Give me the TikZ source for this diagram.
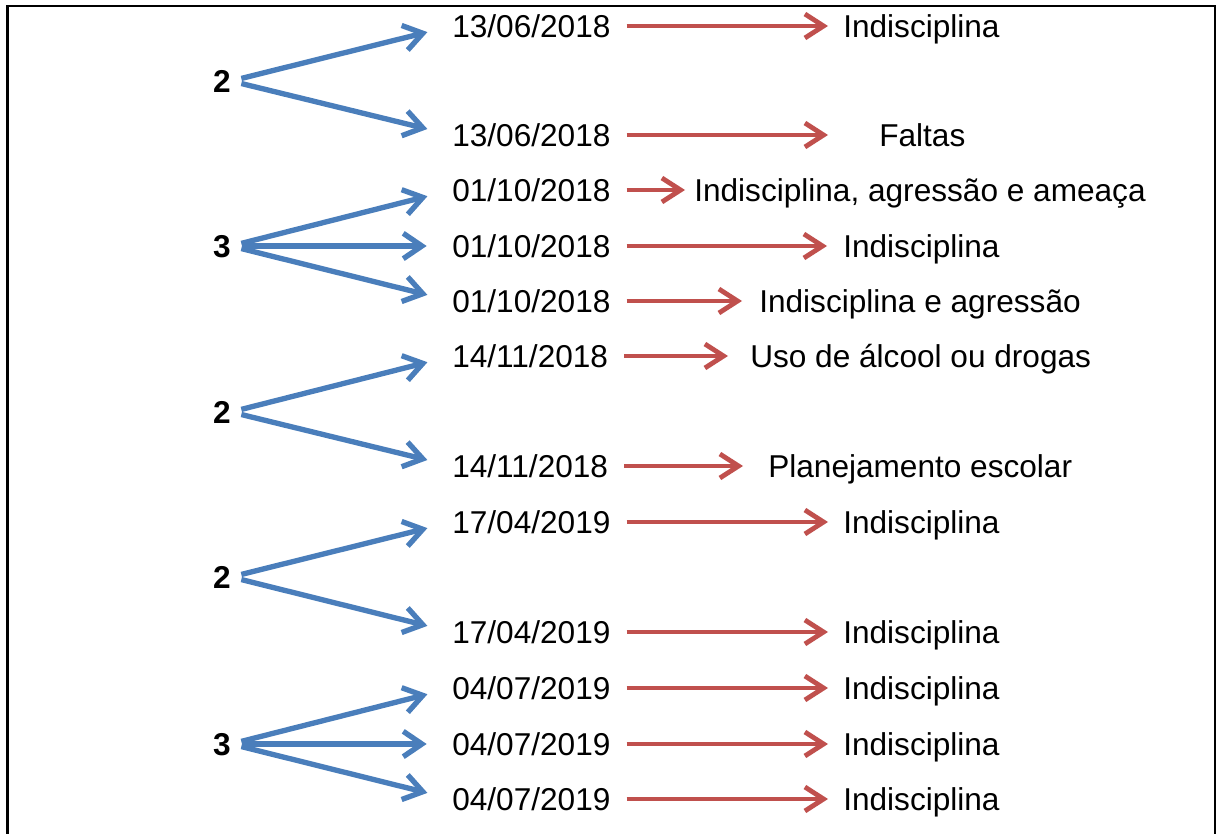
\documentclass[tikz,border=0pt]{standalone}
\usepackage{fontspec}
\setmainfont{Liberation Sans}
\usetikzlibrary{arrows.meta}
\definecolor{bluearr}{RGB}{74,126,187}
\definecolor{redarr}{RGB}{192,80,77}
\begin{document}
\begin{tikzpicture}[x=0.75pt,y=-0.75pt,
  txt/.style={inner sep=0pt, anchor=west, font=\fontsize{23.7}{28}\selectfont, text height=17pt, text depth=0pt},
  num/.style={txt, anchor=east, font=\fontsize{23.7}{28}\selectfont\bfseries},
  barr/.style={draw=bluearr, line width=4pt, -{Straight Barb[length=14pt,width=19pt]}, shorten <=8pt, shorten >=19pt},
  rarr/.style={draw=redarr, line width=3.6pt, -{Straight Barb[length=14pt,width=18pt]}, shorten <=12pt, shorten >=#1},
]
\useasboundingbox (0,0) rectangle (1218,834);
% frame
\draw[line width=2.8pt] (7.5,834) -- (7.5,6);
\draw[line width=1.8pt] (6,6) -- (1215,6) -- (1215,834);

% dates
\node[txt] (d1) at (452,26) {13/06/2018};
\node[txt] (d2) at (452,135) {13/06/2018};
\node[txt] (d3) at (452,190) {01/10/2018};
\node[txt] (d4) at (452,246) {01/10/2018};
\node[txt] (d5) at (452,301) {01/10/2018};
\node[txt] (d6) at (452,356) {14/11/2018};
\node[txt] (d7) at (452,466) {14/11/2018};
\node[txt] (d8) at (452,522) {17/04/2019};
\node[txt] (d9) at (452,632) {17/04/2019};
\node[txt] (d10) at (452,688) {04/07/2019};
\node[txt] (d11) at (452,744) {04/07/2019};
\node[txt] (d12) at (452,799) {04/07/2019};

% reasons
\node[txt] (r1) at (843,26) {Indisciplina};
\node[txt] (r2) at (879,135) {Faltas};
\node[txt] (r3) at (694,190) {Indisciplina, agressão e ameaça};
\node[txt] (r4) at (843,246) {Indisciplina};
\node[txt] (r5) at (759,301) {Indisciplina e agressão};
\node[txt] (r6) at (750,356) {Uso de álcool ou drogas};
\node[txt] (r7) at (768,466) {Planejamento escolar};
\node[txt] (r8) at (843,522) {Indisciplina};
\node[txt] (r9) at (843,632) {Indisciplina};
\node[txt] (r10) at (843,688) {Indisciplina};
\node[txt] (r11) at (843,744) {Indisciplina};
\node[txt] (r12) at (843,799) {Indisciplina};

% counts
\node[num] (n1) at (231,81) {2};
\node[num] (n2) at (231,246) {3};
\node[num] (n3) at (231,412) {2};
\node[num] (n4) at (231,577) {2};
\node[num] (n5) at (231,744) {3};

% blue arrows
\draw[barr] (n1.east) -- (d1.west);
\draw[barr] (n1.east) -- (d2.west);
\draw[barr] (n2.east) -- (d3.west);
\draw[barr] (n2.east) -- (d4.west);
\draw[barr] (n2.east) -- (d5.west);
\draw[barr] (n3.east) -- (d6.west);
\draw[barr] (n3.east) -- (d7.west);
\draw[barr] (n4.east) -- (d8.west);
\draw[barr] (n4.east) -- (d9.west);
\draw[barr] (n5.east) -- (d10.west);
\draw[barr] (n5.east) -- (d11.west);
\draw[barr] (n5.east) -- (d12.west);

% red arrows
\draw[rarr=11.25pt] (d1.east) -- (r1.west);
\draw[rarr=38.25pt] (d2.east) -- (r2.west);
\draw[rarr=6.75pt] (d3.east) -- (r3.west);
\draw[rarr=12pt] (d4.east) -- (r4.west);
\draw[rarr=12.75pt] (d5.east) -- (r5.west);
\draw[rarr=16.5pt] (d6.east) -- (r6.west);
\draw[rarr=18.75pt] (d7.east) -- (r7.west);
\draw[rarr=11.25pt] (d8.east) -- (r8.west);
\draw[rarr=11.25pt] (d9.east) -- (r9.west);
\draw[rarr=11.25pt] (d10.east) -- (r10.west);
\draw[rarr=11.25pt] (d11.east) -- (r11.west);
\draw[rarr=11.25pt] (d12.east) -- (r12.west);
\end{tikzpicture}
\end{document}
